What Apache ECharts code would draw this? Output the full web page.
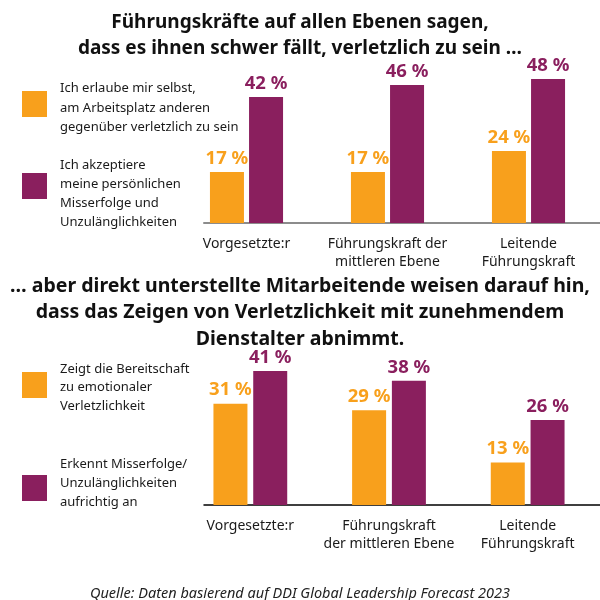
<!DOCTYPE html>
<html>
<head>
<meta charset="utf-8">
<script src="https://cdn.jsdelivr.net/npm/echarts@6/dist/echarts.min.js"></script>
<style>
html,body{margin:0;padding:0;background:#fff;}
#chart{width:600px;height:600px;}
</style>
</head>
<body>
<div id="chart"></div>
<script>
// ---- data ----
const titleTop = 'Führungskräfte auf allen Ebenen sagen,\ndass es ihnen schwer fällt, verletzlich zu sein …';
const titleBottom = '… aber direkt unterstellte Mitarbeitende weisen darauf hin,\ndass das Zeigen von Verletzlichkeit mit zunehmendem\nDienstalter abnimmt.';
const sourceNote = 'Quelle: Daten basierend auf DDI Global Leadership Forecast 2023';

const categoriesTop = ['Vorgesetzte:r', 'Führungskraft der\nmittleren Ebene', 'Leitende\nFührungskraft'];
const categoriesBottom = ['Vorgesetzte:r', 'Führungskraft\nder mittleren Ebene', 'Leitende\nFührungskraft'];

const seriesTopA = 'Ich erlaube mir selbst,\nam Arbeitsplatz anderen\ngegenüber verletzlich zu sein';
const seriesTopB = 'Ich akzeptiere\nmeine persönlichen\nMisserfolge und\nUnzulänglichkeiten';
const seriesBottomA = 'Zeigt die Bereitschaft\nzu emotionaler\nVerletzlichkeit';
const seriesBottomB = 'Erkennt Misserfolge/\nUnzulänglichkeiten\naufrichtig an';

const valuesTopA = [17, 17, 24];
const valuesTopB = [42, 46, 48];
const valuesBottomA = [31, 29, 13];
const valuesBottomB = [41, 38, 26];

// ---- styles ----
const ORANGE = '#F8A01C';
const PURPLE = '#8A1F5E';
const FONT = 'Noto Sans';

const chart = echarts.init(document.getElementById('chart'), null, {renderer: 'canvas'});

function barSeries(name, data, color, xi, gap) {
  return {
    type: 'bar', name: name, data: data,
    xAxisIndex: xi, yAxisIndex: xi,
    barWidth: 34, barGap: gap,
    itemStyle: {color: color},
    label: {
      show: true, position: 'top', distance: 4,
      formatter: '{c} %', color: color,
      fontFamily: FONT, fontWeight: 'bold', fontSize: 18.5
    }
  };
}

function legendBlock(text, color, rectY, textY, lh) {
  return [
    {type: 'rect', left: 22, top: rectY, shape: {width: 25, height: 26}, style: {fill: color}},
    {type: 'text', left: 60, top: textY, style: {text: text, fill: '#1a1a1a', font: '13px "' + FONT + '"', lineHeight: lh}}
  ];
}

const catAxisLabel = {
  color: '#1a1a1a', fontFamily: FONT, fontSize: 14, lineHeight: 18, margin: 12, interval: 0
};

chart.setOption({
  backgroundColor: '#ffffff',
  animation: false,
  title: [
    {text: titleTop, left: 'center', top: 5,
     textStyle: {fontFamily: FONT, fontWeight: 'bold', fontSize: 19, lineHeight: 26, color: '#111'}},
    {text: titleBottom, left: 'center', top: 268,
     textStyle: {fontFamily: FONT, fontWeight: 'bold', fontSize: 19.5, lineHeight: 26.5, color: '#111'}},
    {text: sourceNote, left: 'center', top: 581,
     textStyle: {fontFamily: FONT, fontStyle: 'italic', fontWeight: 'normal', fontSize: 14.5, color: '#222'}}
  ],
  grid: [
    {left: 176, right: 1, top: 73, height: 150},
    {left: 181, right: 3, top: 341.5, height: 163.5},
    {left: 204, right: 0, top: 73, height: 150},
    {left: 204, right: 0, top: 341.5, height: 163.5}
  ],
  xAxis: [
    {type: 'category', gridIndex: 0, data: categoriesTop,
     axisLine: {show: false}, axisTick: {show: false}, axisLabel: catAxisLabel},
    {type: 'category', gridIndex: 1, data: categoriesBottom,
     axisLine: {show: false}, axisTick: {show: false}, axisLabel: catAxisLabel},
    {type: 'value', gridIndex: 2, min: 0, max: 1,
     axisLine: {show: true, onZero: false, lineStyle: {color: '#8c8c8c', width: 2}},
     axisTick: {show: false}, axisLabel: {show: false}, splitLine: {show: false}},
    {type: 'value', gridIndex: 3, min: 0, max: 1,
     axisLine: {show: true, onZero: false, lineStyle: {color: '#000', width: 1.5}},
     axisTick: {show: false}, axisLabel: {show: false}, splitLine: {show: false}}
  ],
  yAxis: [
    {type: 'value', gridIndex: 0, min: 0, max: 50, show: false},
    {type: 'value', gridIndex: 1, min: 0, max: 50, show: false},
    {type: 'value', gridIndex: 2, min: 0, max: 1, show: false},
    {type: 'value', gridIndex: 3, min: 0, max: 1, show: false}
  ],
  series: [
    barSeries(seriesTopA, valuesTopA, ORANGE, 0, '15%'),
    barSeries(seriesTopB, valuesTopB, PURPLE, 0, '15%'),
    barSeries(seriesBottomA, valuesBottomA, ORANGE, 1, '17%'),
    barSeries(seriesBottomB, valuesBottomB, PURPLE, 1, '17%')
  ],
  graphic: [].concat(
    legendBlock(seriesTopA, ORANGE, 91, 79, 19.5),
    legendBlock(seriesTopB, PURPLE, 173, 156, 19),
    legendBlock(seriesBottomA, ORANGE, 372, 360, 18.5),
    legendBlock(seriesBottomB, PURPLE, 475, 455, 19)
  )
});
</script>
</body>
</html>
